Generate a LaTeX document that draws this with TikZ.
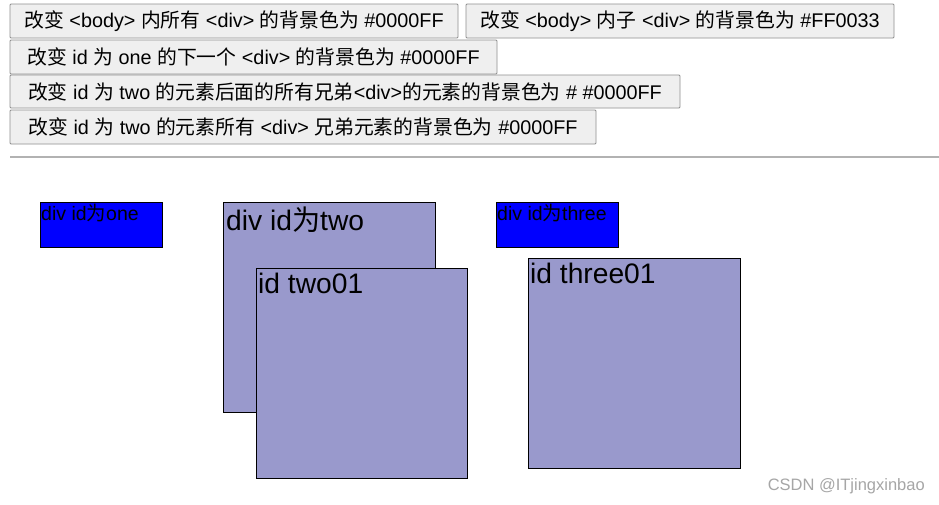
\documentclass[tikz,border=0pt]{standalone}
\usepackage{fontspec}
\setmainfont{Liberation Sans}
\newfontfamily\cjk{Noto Sans CJK SC}
\newcommand{\zh}[1]{{\cjk #1}}
\definecolor{btnfill}{HTML}{EFEFEF}
\definecolor{btnline}{HTML}{8F8F8F}
\definecolor{boxfill}{HTML}{9999CC}
\begin{document}
\begin{tikzpicture}[x=1pt,y=-1pt,
  btn/.style={draw=btnline,fill=btnfill,rounded corners=1pt,line width=0.8pt},
  btntext/.style={font=\fontsize{19.8}{22}\selectfont,inner sep=0pt},
  bluebox/.style={draw=black,fill=blue,line width=1pt},
  purplebox/.style={draw=black,fill=boxfill,line width=1pt},
  smalltext/.style={font=\fontsize{19.5}{20}\selectfont,inner sep=0pt,anchor=north west},
  bigtext/.style={font=\fontsize{28.2}{30}\selectfont,inner sep=0pt,anchor=north west}]
\useasboundingbox (0,0) rectangle (939,504);
\fill[white] (0,0) rectangle (939,504);
\draw[btn] (10,4) rectangle (458,38) node[midway,btntext] (b1) {\zh{改变} <body> \zh{内所有} <div> \zh{的背景色为} \#0000FF};
\draw[btn] (466,4) rectangle (894,38) node[midway,btntext] (b2) {\zh{改变} <body> \zh{内子} <div> \zh{的背景色为} \#FF0033};
\draw[btn] (10,40) rectangle (497,74) node[midway,btntext] (b3) {\zh{改变} id \zh{为} one \zh{的下一个} <div> \zh{的背景色为} \#0000FF};
\draw[btn] (10,75) rectangle (680,108) node[midway,btntext] (b4) {\zh{改变} id \zh{为} two \zh{的元素后面的所有兄弟}<div>\zh{的元素的背景色为} \# \#0000FF};
\draw[btn] (10,110) rectangle (596,144) node[midway,btntext] (b5) {\zh{改变} id \zh{为} two \zh{的元素所有} <div> \zh{兄弟元素的背景色为} \#0000FF};
\draw[gray!60,line width=1.5pt] (10,157) -- (939,157);
\draw[bluebox] (40,202) rectangle (162,247);
\node[smalltext] (t1) at (41,204) {div id\zh{为}one};
\draw[purplebox] (223,202) rectangle (435,412);
\node[bigtext] (t2) at (226,207) {div id\zh{为}two};
\draw[purplebox] (256,268) rectangle (467,478);
\node[bigtext] (t3) at (258,273) {id two01};
\draw[bluebox] (496,202) rectangle (618,247);
\node[smalltext] (t4) at (497,204) {div id\zh{为}three};
\draw[purplebox] (528,258) rectangle (740,468);
\node[bigtext] (t5) at (530,263) {id three01};
\node[font=\fontsize{16.5}{18}\selectfont,text=gray!70,anchor=east,inner sep=0pt] (wm) at (925,486) {CSDN @ITjingxinbao};
\end{tikzpicture}
\end{document}
